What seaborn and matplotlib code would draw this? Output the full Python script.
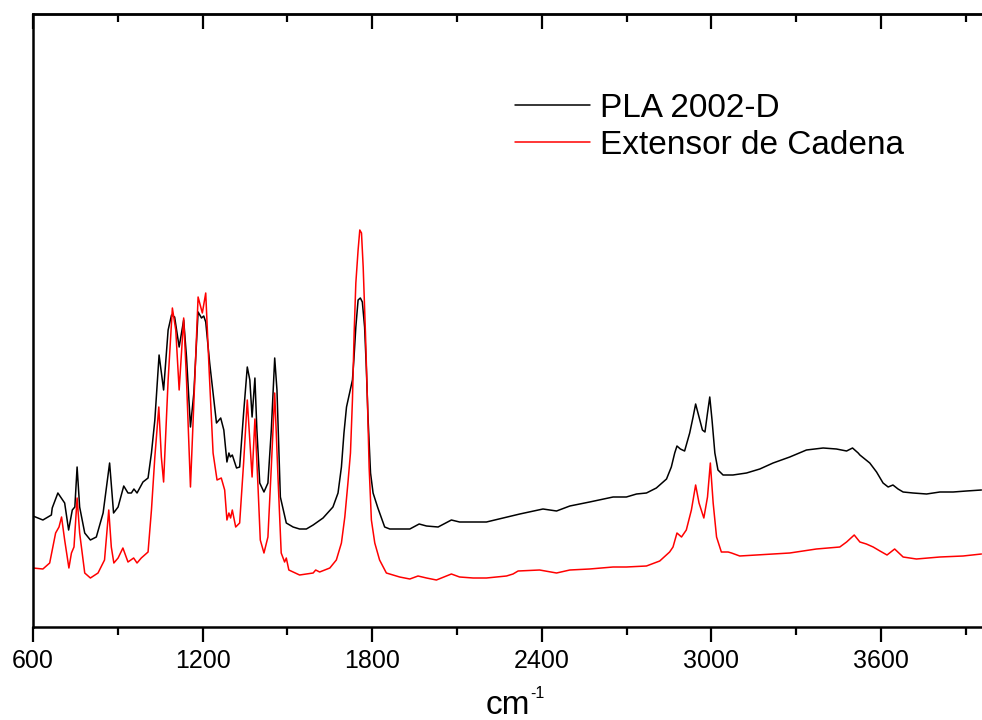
import numpy as np
import pandas as pd
import matplotlib
matplotlib.use("Agg")
import matplotlib.pyplot as plt
import seaborn as sns

# ---------------- data ----------------
series_names = ["PLA 2002-D", "Extensor de Cadena"]

pla_wn = [600, 635, 665, 668, 688, 712, 726, 739, 748, 756, 765, 783, 803, 824, 848,
          871, 885, 901, 921, 936, 948, 957, 968, 989, 1007, 1019, 1031, 1046, 1062,
          1078, 1090, 1101, 1117, 1133, 1143, 1157, 1169, 1184, 1196, 1204, 1211, 1225,
          1249, 1264, 1275, 1286, 1293, 1298, 1305, 1320, 1331, 1345, 1358, 1367, 1375,
          1385, 1392, 1402, 1417, 1431, 1443, 1455, 1463, 1475, 1496, 1520, 1543, 1567,
          1591, 1626, 1661, 1679, 1691, 1700, 1709, 1720, 1730, 1735, 1742, 1750, 1758,
          1765, 1773, 1779, 1785, 1794, 1803, 1820, 1844, 1862, 1897, 1933, 1966, 1992,
          2033, 2080, 2109, 2157, 2204, 2263, 2322, 2404, 2452, 2499, 2569, 2652, 2699,
          2735, 2770, 2805, 2841, 2858, 2870, 2878, 2890, 2905, 2923, 2935, 2944, 2956,
          2968, 2977, 2986, 2994, 3002, 3012, 3023, 3041, 3076, 3124, 3171, 3218, 3277,
          3336, 3395, 3442, 3478, 3499, 3519, 3525, 3560, 3584, 3607, 3625, 3642, 3660,
          3678, 3713, 3761, 3808, 3855, 3902, 3955]
pla_abs = [111, 107, 112, 119, 134, 124, 97, 117, 120, 160, 120, 94, 87, 90, 114,
           164, 114, 120, 141, 134, 134, 138, 134, 145, 149, 174, 207, 272, 237,
           297, 312, 310, 280, 307, 270, 200, 234, 315, 309, 311, 305, 264,
           204, 209, 197, 165, 174, 170, 172, 159, 160, 214, 260, 247, 210,
           249, 197, 144, 135, 144, 197, 269, 237, 130, 104, 100, 98, 98,
           102, 109, 120, 134, 160, 194, 220, 234, 247, 267, 300, 327, 329,
           325, 300, 260, 210, 154, 134, 119, 100, 98, 98, 98, 103, 101,
           100, 107, 105, 105, 105, 109, 113, 118, 116, 121, 125, 130, 130,
           133, 134, 139, 148, 160, 174, 181, 178, 176, 194, 210, 223, 210,
           197, 195, 214, 230, 207, 174, 157, 152, 152, 154, 158, 164, 170,
           177, 179, 178, 176, 179, 174, 172, 164, 155, 144, 140, 142, 138,
           135, 134, 133, 135, 135, 136, 137]

ext_wn = [600, 635, 659, 680, 692, 701, 712, 727, 736, 745, 756, 765, 783, 803, 830,
          853, 868, 877, 886, 901, 918, 936, 956, 968, 983, 1007, 1019, 1031, 1045,
          1054, 1062, 1078, 1093, 1105, 1117, 1133, 1143, 1157, 1172, 1184, 1199, 1211,
          1223, 1237, 1251, 1266, 1278, 1286, 1293, 1299, 1305, 1317, 1331, 1345, 1358,
          1367, 1375, 1385, 1396, 1404, 1417, 1431, 1443, 1455, 1467, 1478, 1490, 1496,
          1505, 1543, 1591, 1600, 1614, 1650, 1673, 1691, 1703, 1714, 1723, 1730, 1736,
          1742, 1750, 1756, 1762, 1768, 1776, 1783, 1789, 1797, 1809, 1826, 1850, 1897,
          1933, 1962, 1992, 2027, 2080, 2109, 2157, 2204, 2275, 2298, 2316, 2392, 2452,
          2499, 2569, 2652, 2699, 2770, 2817, 2852, 2864, 2878, 2894, 2911, 2929, 2944,
          2956, 2973, 2986, 2996, 3006, 3018, 3035, 3059, 3071, 3100, 3159, 3277, 3371,
          3454, 3478, 3505, 3525, 3548, 3572, 3596, 3621, 3648, 3678, 3725, 3808, 3890,
          3955]
ext_abs = [59, 58, 64, 94, 100, 110, 87, 59, 74, 80, 129, 94, 54, 49, 54,
           67, 117, 80, 64, 69, 79, 65, 69, 64, 69, 75, 117, 170, 220,
           170, 145, 247, 319, 297, 237, 309, 247, 140, 247, 330, 314, 334,
           257, 174, 147, 149, 137, 107, 114, 109, 117, 100, 104, 164, 227,
           187, 150, 208, 140, 87, 74, 90, 160, 234, 147, 74, 65, 69,
           57, 52, 54, 57, 55, 59, 67, 84, 110, 144, 174, 227, 294,
           344, 377, 397, 394, 360, 294, 227, 160, 107, 84, 67, 54, 50,
           48, 51, 49, 47, 53, 50, 49, 49, 51, 53, 56, 57, 54,
           57, 58, 60, 60, 61, 66, 75, 80, 94, 90, 97, 117, 142,
           124, 109, 130, 164, 124, 90, 75, 75, 74, 71, 72, 74, 78,
           80, 85, 92, 85, 83, 80, 76, 72, 78, 70, 68, 70, 71,
           73]

major_ticks = [600, 1200, 1800, 2400, 3000, 3600]
minor_ticks = [900, 1500, 2100, 2700, 3300, 3900]

# ---------------- figure ----------------
sns.set_style("white")
plt.rcParams["font.family"] = ["Liberation Sans", "DejaVu Sans"]
plt.rcParams["text.color"] = "black"
plt.rcParams["axes.labelcolor"] = "black"
plt.rcParams["xtick.color"] = "black"
plt.rcParams["ytick.color"] = "black"

df = pd.concat([
    pd.DataFrame({"wn": pla_wn, "abs": pla_abs, "sample": series_names[0]}),
    pd.DataFrame({"wn": ext_wn, "abs": ext_abs, "sample": series_names[1]}),
], ignore_index=True)

fig = plt.figure(figsize=(9.82, 7.2), dpi=100)
ax = fig.add_axes([33 / 982, 1 - 627 / 720, 1 - 33 / 982, (627 - 14) / 720])

sns.lineplot(data=df, x="wn", y="abs", hue="sample",
             palette={series_names[0]: "#000000", series_names[1]: "#ff0000"},
             estimator=None, sort=False, linewidth=1.1, ax=ax, legend=False)

ax.set_xlim(600, 3957)
ax.set_ylim(0, 613)
ax.set_yticks([])
ax.set_ylabel("")
ax.set_xticks(major_ticks)
ax.set_xticks(minor_ticks, minor=True)
ax.tick_params(axis="x", which="both", bottom=True, top=False)
ax.tick_params(axis="x", which="major", direction="out", length=11, width=1.6,
               labelsize=18, pad=5, colors="black")
ax.tick_params(axis="x", which="minor", direction="out", length=5.5, width=1.6)
for side in ["left", "bottom", "top"]:
    ax.spines[side].set_linewidth(1.8)
    ax.spines[side].set_color("black")
ax.spines["right"].set_visible(False)

top = ax.secondary_xaxis("top")
top.set_xticks(major_ticks)
top.set_xticks(minor_ticks, minor=True)
top.tick_params(axis="x", which="both", top=True, labeltop=False)
top.tick_params(axis="x", which="major", direction="in", length=11, width=1.6)
top.tick_params(axis="x", which="minor", direction="in", length=5.5, width=1.6)
top.spines["top"].set_linewidth(1.8)

ax.set_xlabel("cm", fontsize=24, labelpad=12)
ax.annotate("-1", xy=(1.0, 1.0), xycoords=ax.xaxis.label,
            xytext=(0.5, 2.5), textcoords="offset points",
            ha="left", va="top", fontsize=11.5)

handles = [plt.Line2D([], [], color="#000000", lw=1.1),
           plt.Line2D([], [], color="#ff0000", lw=1.1)]
ax.legend(handles, series_names, loc="upper left",
          bbox_to_anchor=(515 / 982, 1 - 93 / 720), bbox_transform=fig.transFigure,
          frameon=False, fontsize=24, handlelength=2.25, handletextpad=0.3,
          labelspacing=0.18, borderpad=0, borderaxespad=0)

fig.savefig("out.png", dpi=100)
